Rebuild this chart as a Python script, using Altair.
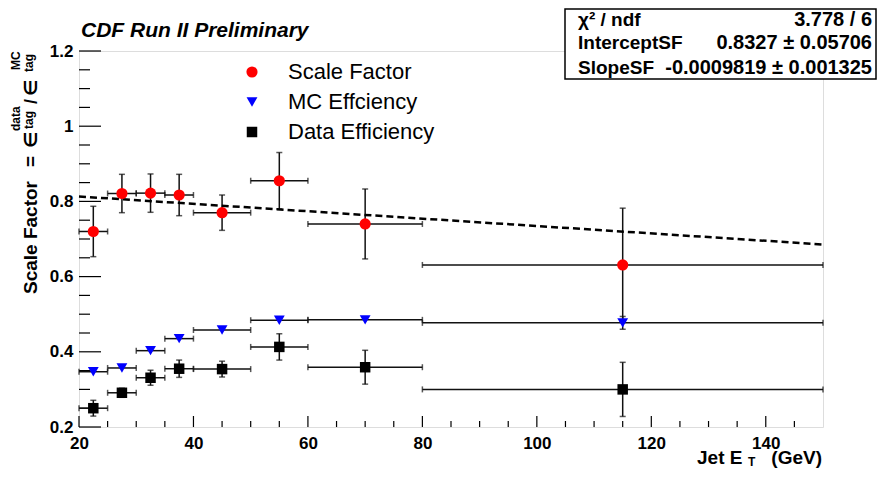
import altair as alt
import pandas as pd

# ---------------- data ----------------
series_names = ["Scale Factor", "MC Effciency", "Data Efficiency"]
series_colors = ["#ff0000", "#0000ff", "#000000"]
series_shapes = ["circle", "triangle-down", "square"]
series_sizes = [125, 110, 130]

bin_lo = [20, 25, 30, 35, 40, 50, 60, 80]
bin_hi = [25, 30, 35, 40, 50, 60, 80, 150]
bin_center = [22.5, 27.5, 32.5, 37.5, 45, 55, 70, 115]

sf_val = [0.720, 0.821, 0.822, 0.817, 0.770, 0.855, 0.740, 0.631]
sf_err = [0.067, 0.051, 0.051, 0.055, 0.047, 0.075, 0.093, 0.151]
mc_val = [0.347, 0.357, 0.403, 0.435, 0.458, 0.484, 0.485, 0.477]
mc_err = [0.004, 0.004, 0.004, 0.004, 0.004, 0.004, 0.005, 0.017]
data_val = [0.250, 0.291, 0.331, 0.355, 0.354, 0.413, 0.359, 0.300]
data_err = [0.021, 0.012, 0.020, 0.023, 0.021, 0.035, 0.045, 0.072]

fit_chi2 = "3.778"
fit_ndf = "6"
fit_intercept = 0.8327
fit_intercept_err = 0.05706
fit_slope = -0.0009819
fit_slope_err = 0.001325
fit_range = [20, 150]

x_major = [20, 40, 60, 80, 100, 120, 140]
x_minor = [25, 30, 35, 45, 50, 55, 65, 70, 75, 85, 90, 95, 105, 110, 115,
           125, 130, 135, 145]
y_major = [0.2, 0.4, 0.6, 0.8, 1.0, 1.2]
y_minor = [0.25, 0.3, 0.35, 0.45, 0.5, 0.55, 0.65, 0.7, 0.75, 0.85, 0.9,
           0.95, 1.05, 1.1, 1.15]

# ---------------- tables ----------------
rows = []
for name, vals, errs in zip(series_names, [sf_val, mc_val, data_val],
                            [sf_err, mc_err, data_err]):
    for c, lo, hi, v, e in zip(bin_center, bin_lo, bin_hi, vals, errs):
        rows.append(dict(series=name, x=c, xlo=lo, xhi=hi, y=v,
                         ylo=v - e, yhi=v + e, yerr=e))
df = pd.DataFrame(rows)
fit_df = pd.DataFrame({"x": fit_range})
one = pd.DataFrame({"a": [0]})

W, H = 744, 376
FONT = "Liberation Sans"

xs = alt.Scale(domain=[20, 150], nice=False, zero=False)
ys = alt.Scale(domain=[0.2, 1.2], nice=False, zero=False)

x_axis = alt.Axis(values=x_major, tickSize=0, domain=False, grid=False,
                  labelFont=FONT, labelFontWeight="bold", labelFontSize=17,
                  labelColor="black", labelPadding=8, labelFlush=False,
                  title=None)
y_axis = alt.Axis(values=y_major, format="~g", tickSize=0, domain=False,
                  grid=False, labelFont=FONT, labelFontWeight="bold",
                  labelFontSize=17, labelColor="black", labelPadding=6,
                  title=None)


def X(field):
    return alt.X(field, scale=xs, axis=x_axis)


def Y(field):
    return alt.Y(field, scale=ys, axis=y_axis)


# dashed fit line
fit_line = alt.Chart(fit_df).transform_calculate(
    y=f"{fit_intercept} + ({fit_slope}) * datum.x"
).mark_line(color="black", strokeWidth=2.5, strokeDash=[7, 4]).encode(
    x=X("x:Q"), y=Y("y:Q"))


# inner ticks
def xticks(vals, length):
    return alt.Chart(pd.DataFrame({"t": vals})).mark_rule(
        color="black", strokeWidth=1.2).encode(
        x=X("t:Q"), y=alt.value(H), y2=alt.value(H - length))


def yticks(vals, length):
    return alt.Chart(pd.DataFrame({"t": vals})).mark_rule(
        color="black", strokeWidth=1.2).encode(
        y=Y("t:Q"), x=alt.value(0), x2=alt.value(length))


ECOL = "#111111"
base = alt.Chart(df)
v_err = base.mark_rule(color=ECOL, strokeWidth=1.5).encode(
    x=X("x:Q"), y=Y("ylo:Q"), y2="yhi:Q")
v_cap_lo = base.transform_filter("datum.yerr > 0.008").mark_tick(
    orient="horizontal", size=6, thickness=1.5, color=ECOL).encode(
    x=X("x:Q"), y=Y("ylo:Q"))
v_cap_hi = base.transform_filter("datum.yerr > 0.008").mark_tick(
    orient="horizontal", size=6, thickness=1.5, color=ECOL).encode(
    x=X("x:Q"), y=Y("yhi:Q"))
h_err = base.mark_rule(color=ECOL, strokeWidth=1.5).encode(
    x=X("xlo:Q"), x2="xhi:Q", y=Y("y:Q"))
h_cap_lo = base.mark_tick(orient="vertical", size=6, thickness=1.5,
                          color=ECOL).encode(x=X("xlo:Q"), y=Y("y:Q"))
h_cap_hi = base.mark_tick(orient="vertical", size=6, thickness=1.5,
                          color=ECOL).encode(x=X("xhi:Q"), y=Y("y:Q"))

legend = alt.Legend(title=None, orient="none", legendX=162, legendY=10,
                    labelFont=FONT, labelFontSize=22, labelColor="black",
                    labelFontWeight="normal", symbolSize=85,
                    symbolStrokeWidth=0, labelOffset=25, rowPadding=8,
                    padding=0)
markers = base.mark_point(filled=True, opacity=1, strokeWidth=0).encode(
    x=X("x:Q"), y=Y("y:Q"),
    color=alt.Color("series:N", scale=alt.Scale(domain=series_names,
                    range=series_colors), legend=legend),
    shape=alt.Shape("series:N", scale=alt.Scale(domain=series_names,
                    range=series_shapes), legend=legend),
    size=alt.Size("series:N", scale=alt.Scale(domain=series_names,
                  range=series_sizes), legend=None),
)


def txt(s, x, y, size, weight="bold", align="left", angle=0,
        italic=False, font=FONT):
    kw = dict(text=s, fontSize=size, fontWeight=weight, align=align,
              baseline="alphabetic", font=font, color="black")
    if angle:
        kw["angle"] = angle
    if italic:
        kw["fontStyle"] = "italic"
    return alt.Chart(one).mark_text(**kw).encode(
        x=alt.value(x), y=alt.value(y))


# stats box
box = alt.Chart(one).mark_rect(fill="white", stroke="black",
                               strokeWidth=1.5).encode(
    x=alt.value(486), x2=alt.value(797), y=alt.value(-42), y2=alt.value(28))
stats = [
    txt("χ² / ndf", 499, -25, 19),
    txt(f"{fit_chi2} / {fit_ndf}", 793, -25, 20, align="right"),
    txt("InterceptSF", 499, -2, 19),
    txt(f"{fit_intercept} ± {fit_intercept_err}", 793, -2, 20,
        align="right"),
    txt("SlopeSF", 499, 23, 19),
    txt(f"{fit_slope} ± {fit_slope_err}", 793, 23, 20, align="right"),
]

title_cdf = txt("CDF Run II Preliminary", 2, -14, 21, italic=True)

ytitle = [
    txt("Scale Factor", -42, 243, 19, angle=270),
    txt("=", -42, 116, 19, angle=270),
    txt("∈", -42, 97, 18, angle=270, font="DejaVu Sans"),
    txt("data", -59, 80, 12, angle=270),
    txt("tag", -46, 78, 12, angle=270),
    txt("/", -42, 53, 18, angle=270),
    txt("∈", -42, 45, 18, angle=270, font="DejaVu Sans"),
    txt("MC", -59, 19, 12, angle=270),
    txt("tag", -46, 21, 12, angle=270),
]

xtitle = [
    txt("Jet E", 618, 413, 19),
    txt("T", 669, 415, 12),
    txt("(GeV)", 743, 413, 19, align="right"),
]

chart = alt.layer(
    xticks(x_major, 11), xticks(x_minor, 6),
    yticks(y_major, 22), yticks(y_minor, 11),
    v_err, v_cap_lo, v_cap_hi, h_err, h_cap_lo, h_cap_hi,
    fit_line,
    markers,
    box, *stats, title_cdf, *ytitle, *xtitle,
).properties(
    width=W, height=H,
    autosize=alt.AutoSizeParams(type="none"),
    padding={"left": 71, "top": 43, "right": 54, "bottom": 42},
).configure_view(
    stroke="black", strokeWidth=1.5
).configure(font=FONT, background="white")

chart.save("out.html", embed_options={"renderer": "svg", "actions": False})
